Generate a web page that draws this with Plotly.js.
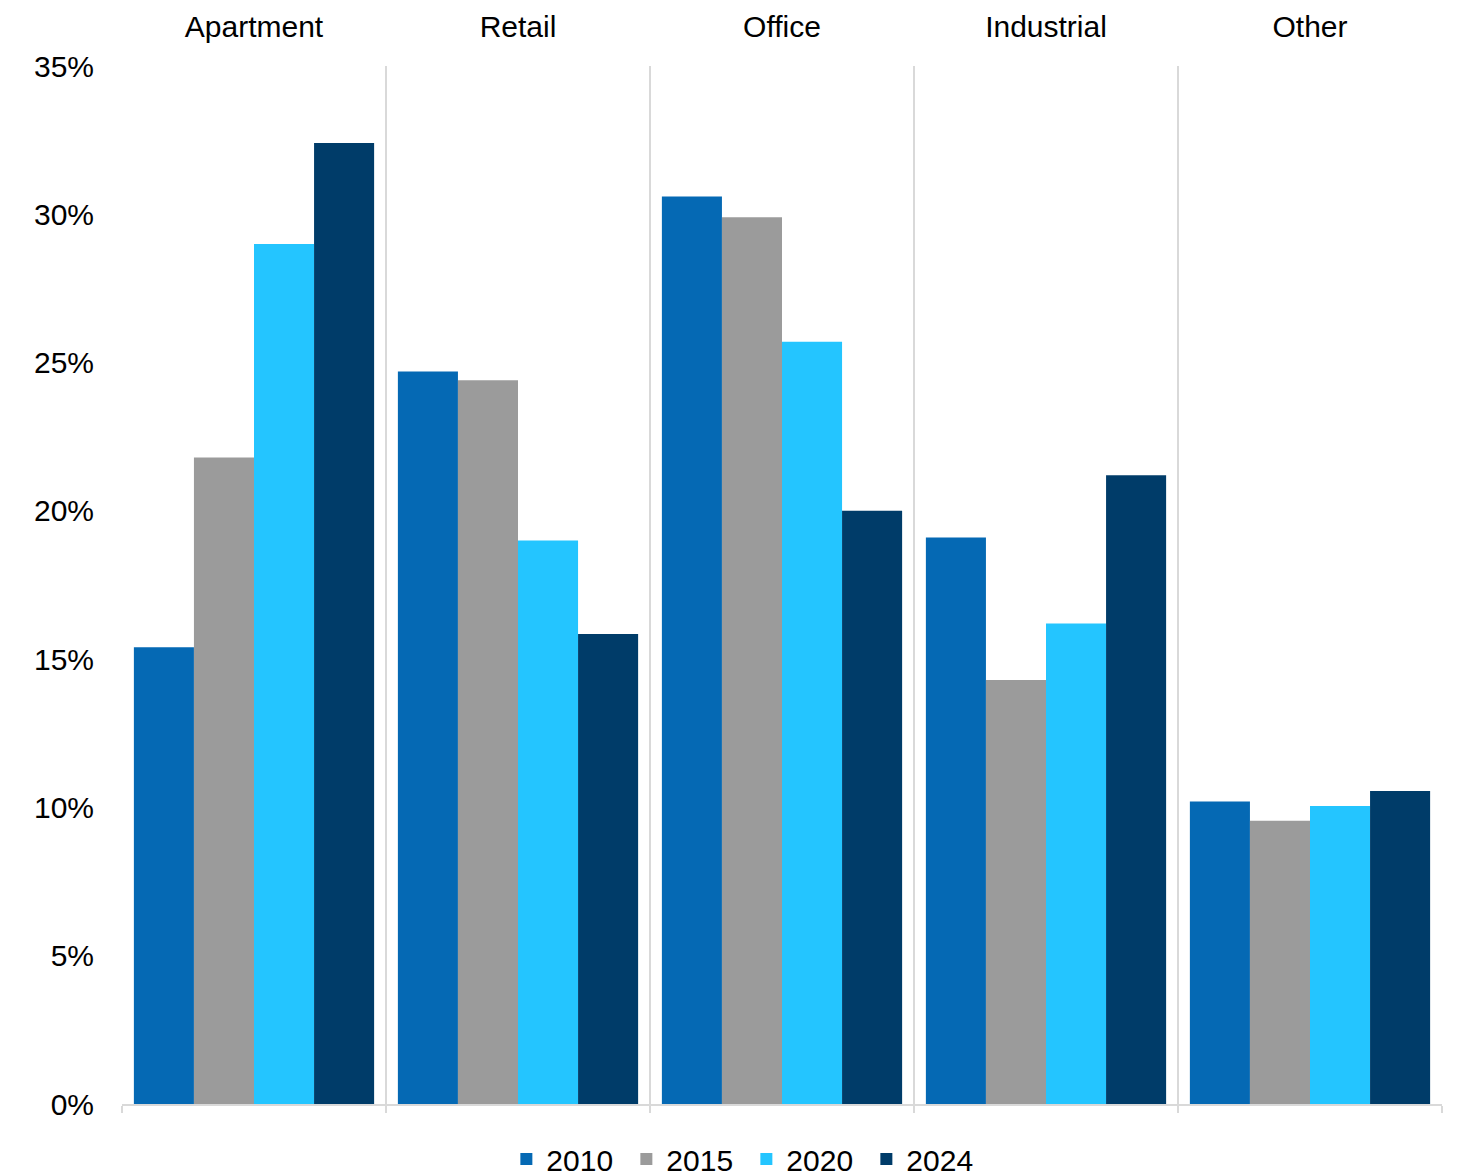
<!DOCTYPE html>
<html>
<head>
<meta charset="utf-8">
<script src="https://cdn.plot.ly/plotly-3.0.1.min.js"></script>
<style>
  html, body { margin: 0; padding: 0; background: #ffffff; }
  #chart { width: 1457px; height: 1176px; }
</style>
</head>
<body>
<div id="chart"></div>
<script>
// Property types (shown along the top edge)
const categories = ["Apartment", "Retail", "Office", "Industrial", "Other"];

// Share of transaction volume by property type, in percent
const years = ["2010", "2015", "2020", "2024"];
const share2010 = [15.4, 24.7, 30.6, 19.1, 10.2];
const share2015 = [21.8, 24.4, 29.9, 14.3, 9.55];
const share2020 = [29.0, 19.0, 25.7, 16.2, 10.05];
const share2024 = [32.4, 15.85, 20.0, 21.2, 10.55];

const seriesValues = [share2010, share2015, share2020, share2024];
const seriesColors = ["#0569b4", "#9b9b9b", "#24c5ff", "#003c69"];

// y-axis tick values and their labels
const yTickVals = [0, 5, 10, 15, 20, 25, 30, 35];
const yTickText = ["0%", "5%", "10%", "15%", "20%", "25%", "30%", "35%"];

const FONT = "Liberation Sans, Arial, sans-serif";
const FSIZE = 30;

const traces = seriesValues.map((vals, i) => ({
  type: "bar",
  name: years[i],
  x: categories,
  y: vals,
  marker: { color: seriesColors[i], line: { width: 0 } },
  hoverinfo: "skip"
}));

// Invisible companion trace on a linear x-axis that carries the
// separator lines between the category groups.
traces.push({
  type: "scatter",
  mode: "markers",
  x: [-0.5, 4.5],
  y: [0, 0],
  xaxis: "x2",
  marker: { opacity: 0 },
  showlegend: false,
  hoverinfo: "skip"
});

const layout = {
  width: 1457,
  height: 1176,
  margin: { l: 122, r: 15, t: 66, b: 72, autoexpand: false },
  paper_bgcolor: "#ffffff",
  plot_bgcolor: "#ffffff",
  font: { family: FONT, size: FSIZE, color: "#000000" },
  barmode: "group",
  bargap: 0.09,
  bargroupgap: 0,
  showlegend: true,
  legend: {
    orientation: "h",
    x: 0.473,
    xanchor: "center",
    y: -0.028,
    yanchor: "top",
    font: { family: FONT, size: FSIZE, color: "#000000" },
    itemwidth: 30,
    entrywidth: 75,
    entrywidthmode: "pixels",
    traceorder: "normal"
  },
  xaxis: {
    type: "category",
    side: "top",
    range: [-0.5, 4.5],
    showgrid: false,
    showline: false,
    zeroline: false,
    ticks: "",
    ticklabelstandoff: 22,
    tickfont: { family: FONT, size: FSIZE, color: "#000000" },
    fixedrange: true
  },
  xaxis2: {
    overlaying: "x",
    side: "bottom",
    type: "linear",
    range: [-0.5, 4.5],
    tick0: -0.5,
    dtick: 1,
    showgrid: true,
    gridcolor: "#d9d9d9",
    gridwidth: 2,
    showline: true,
    linecolor: "#d9d9d9",
    linewidth: 2,
    ticks: "outside",
    ticklen: 7,
    tickwidth: 2,
    tickcolor: "#d9d9d9",
    showticklabels: false,
    zeroline: false,
    fixedrange: true
  },
  yaxis: {
    range: [0, 35],
    tickvals: yTickVals,
    ticktext: yTickText,
    showgrid: false,
    showline: false,
    zeroline: false,
    ticks: "",
    ticklabelstandoff: 27,
    tickfont: { family: FONT, size: FSIZE, color: "#000000" },
    fixedrange: true
  }
};

Plotly.newPlot("chart", traces, layout, { displayModeBar: false, staticPlot: true });
</script>
</body>
</html>
